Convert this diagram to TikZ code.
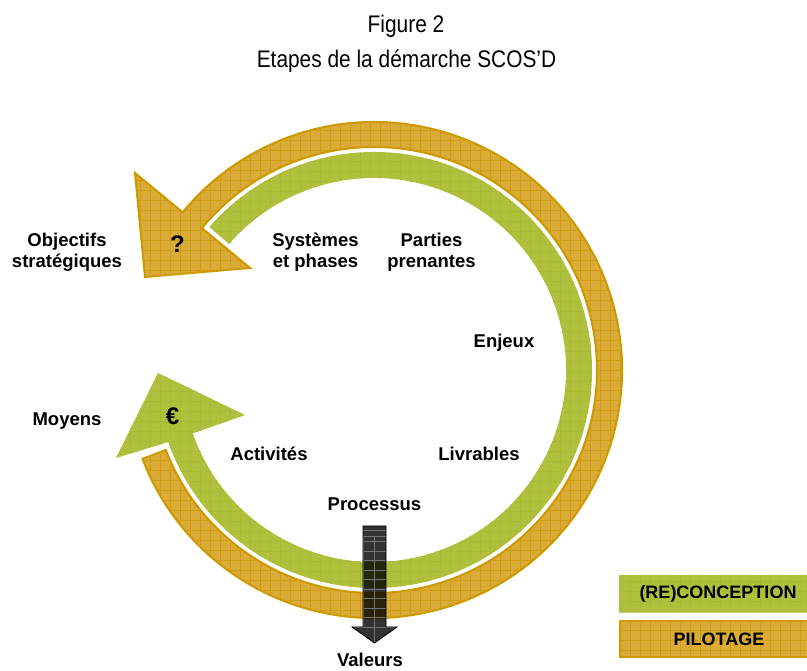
\documentclass[tikz,border=0pt]{standalone}
\usepackage{fontspec}
\setmainfont{Liberation Sans}
\usepackage{graphicx}
\definecolor{grn}{RGB}{176,191,60}
\definecolor{grnline}{RGB}{170,186,54}
\definecolor{orf}{RGB}{219,171,56}
\definecolor{orl}{RGB}{208,156,20}
\definecolor{ordk}{RGB}{204,153,0}
\begin{document}
\begin{tikzpicture}[x=1pt,y=1pt,
  lbl/.style={font=\fontsize{18.5}{21}\selectfont\bfseries, inner sep=0pt, anchor=base},
  sym/.style={font=\fontsize{24}{26}\selectfont\bfseries, inner sep=0pt, anchor=base},
  ttl/.style={font=\fontsize{24}{26}\selectfont, inner sep=0pt, anchor=base},
  leg/.style={font=\fontsize{18}{20}\selectfont\bfseries, inner sep=0pt, anchor=base},
  orgrid/.style={orl, line width=1pt},
  grgrid/.style={grnline, line width=0.6pt},
  blkgrid/.style={black!55, line width=0.8pt}]
\useasboundingbox (0,0) rectangle (807,671);
\coordinate (C) at (374,301);
\def\orpath{([shift={(374,301)}]201:248pt) arc[start angle=201,end angle=500.5,radius=248pt] -- (135,498) -- (145,394) -- (250,403) -- ([shift={(374,301)}]500.5:223pt) arc[start angle=500.5,end angle=201,radius=223pt] -- cycle}
\def\grpath{([shift={(374,301)}]139:218pt) arc[start angle=139,end angle=-160.7,radius=218pt] -- (116,213) -- (158,298) -- (245,256) -- ([shift={(374,301)}]-160.7:192pt) arc[start angle=-160.7,end angle=139,radius=192pt] -- cycle}
% orange ring (pilotage)
\begin{scope}
  \clip \orpath;
  \fill[orf] (0,0) rectangle (807,671);
  \draw[orgrid] (0,0) grid[step=10] (807,671);
\end{scope}
\draw[ordk, line width=2pt, line join=miter] \orpath;
% green ring (reconception)
\begin{scope}
  \clip \grpath;
  \fill[grn] (0,0) rectangle (807,671);
  \draw[grgrid] (0,0) grid[step=10] (807,671);
\end{scope}
% black arrow Processus -> Valeurs
\fill[black, fill opacity=0.8] (363,145) -- (386,145) -- (386,44) -- (397,44) -- (374.5,28) -- (352,44) -- (363,44) -- cycle;
\begin{scope}
  \clip (363,145) -- (386,145) -- (386,44) -- (397,44) -- (374.5,28) -- (352,44) -- (363,44) -- cycle;
  \foreach \yy in {141,135,130,120,111,101,92,82,73,63,54,44} \draw[blkgrid] (350,\yy) -- (400,\yy);
  \draw[blkgrid] (374.5,28) -- (374.5,135);
  \draw[blkgrid] (363,135) -- (363,44) (386,135) -- (386,44);
\end{scope}
\draw[black, line width=0.8pt] (363,145) -- (386,145) -- (386,44) -- (397,44) -- (374.5,28) -- (352,44) -- (363,44) -- cycle;
% legend
\begin{scope}
  \clip (619,58) rectangle (810,96);
  \fill[grn] (619,58) rectangle (810,96);
  \draw[grgrid] (619,58) grid[step=10] (810,96);
\end{scope}
\draw[grnline!70!white, line width=1pt] (619,58.5) -- (807,58.5);
\begin{scope}
  \clip (619,13) rectangle (810,51);
  \fill[orf] (619,13) rectangle (810,51);
  \draw[orgrid] (619,13) grid[step=10] (810,51);
\end{scope}
\draw[ordk, line width=2pt] (620,14) rectangle (812,50);
\node[leg] (lg1) at (718,72) {(RE)CONCEPTION};
\node[leg] (lg2) at (719,25) {PILOTAGE};
% title
\node[ttl] (t1) at (406,638) {\scalebox{0.87}[1]{Figure 2}};
\node[ttl] (t2) at (406.5,603) {\scalebox{0.87}[1]{Etapes de la démarche SCOS’D}};
% labels
\node[lbl] (obj) at (67,424) {\begin{tabular}[t]{@{}c@{}}Objectifs\\stratégiques\end{tabular}};
\node[lbl] (sys) at (315.5,424) {\begin{tabular}[t]{@{}c@{}}Systèmes\\et phases\end{tabular}};
\node[lbl] (par) at (431.5,424) {\begin{tabular}[t]{@{}c@{}}Parties\\prenantes\end{tabular}};
\node[lbl] (enj) at (504,323) {Enjeux};
\node[lbl] (moy) at (67,245) {Moyens};
\node[sym] (q) at (177.5,418) {?};
\node[sym] (eur) at (172.5,246) {€};
\node[lbl] (act) at (269,210) {Activités};
\node[lbl] (liv) at (479,210) {Livrables};
\node[lbl] (proc) at (374.5,160) {Processus};
\node[lbl] (val) at (370,4.5) {Valeurs};
\end{tikzpicture}
\end{document}
